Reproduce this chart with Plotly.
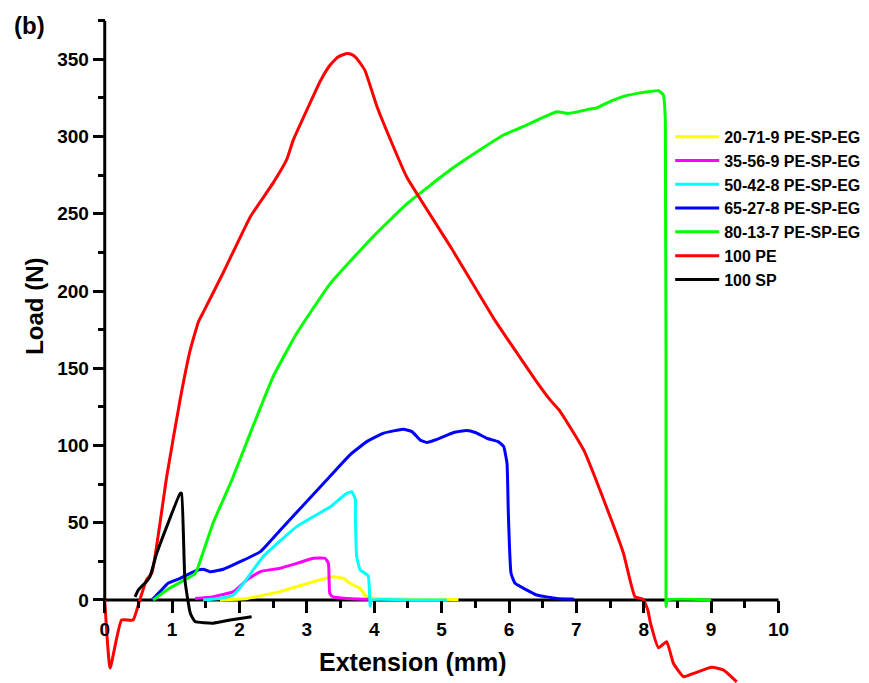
import plotly.graph_objects as go

# ---------------- data ----------------
names = ["20-71-9 PE-SP-EG", "35-56-9 PE-SP-EG", "50-42-8 PE-SP-EG",
         "65-27-8 PE-SP-EG", "80-13-7 PE-SP-EG", "100 PE", "100 SP"]
colors = ["#ffff00", "#ff00ff", "#00ffff", "#0000ff", "#00ff00", "#ff0000", "#000000"]

yellow_x = [1.71, 2.11, 2.60, 2.85, 3.10, 3.39, 3.54, 3.64, 3.74, 3.79, 3.86, 3.94, 4.09, 4.60, 5.25]
yellow_y = [0.0, 1.0, 5.4, 8.6, 11.9, 15.0, 14.0, 10.8, 8.6, 7.6, 3.2, 1.5, 1.0, 0.5, 0.3]

magenta_x = [1.34, 1.60, 1.91, 2.11, 2.31, 2.60, 2.85, 3.10, 3.27, 3.32, 3.34, 3.39, 3.59, 3.94]
magenta_y = [1.0, 2.0, 5.4, 13.0, 18.4, 20.5, 23.7, 27.0, 27.0, 23.7, 4.3, 2.0, 1.0, 0.5]

cyan_x = [1.46, 1.70, 1.91, 2.06, 2.35, 2.85, 3.35, 3.59, 3.67, 3.72, 3.72, 3.74, 3.79, 3.82, 3.91, 3.94, 3.96, 4.50, 5.08]
cyan_y = [0.0, 1.0, 3.2, 10.8, 28.0, 47.5, 60.4, 69.0, 70.0, 64.8, 56.0, 28.0, 19.4, 18.5, 15.5, -4.0, 0.0, 0.0, 0.0]

blue_x = [0.70, 0.82, 0.94, 1.12, 1.32, 1.46, 1.56, 1.76, 2.01, 2.31, 2.60, 3.30, 3.64, 3.89, 4.14,
          4.43, 4.56, 4.68, 4.78, 4.93, 5.18, 5.37, 5.50, 5.67, 5.84, 5.92, 5.97, 5.99, 6.03, 6.09,
          6.26, 6.41, 6.71, 6.96]
blue_y = [0.0, 5.4, 10.8, 14.0, 18.4, 19.9, 18.3, 19.9, 24.8, 31.3, 45.0, 78.0, 94.0, 102.5, 108.0,
          110.5, 109.0, 103.6, 102.0, 104.0, 108.4, 109.7, 108.4, 104.7, 102.5, 99.3, 88.5, 56.0, 17.3, 10.8,
          6.5, 3.2, 1.0, 0.6]

green_x = [0.72, 0.92, 1.34, 1.37, 1.61, 1.89, 2.16, 2.50, 2.85, 3.35, 4.00, 4.50, 5.13, 5.52, 5.92,
           6.27, 6.71, 6.88, 7.20, 7.30, 7.45, 7.70, 8.00, 8.22, 8.29, 8.32, 8.33, 8.33, 8.35, 9.00]
green_y = [0.0, 6.5, 17.0, 19.4, 50.0, 78.0, 108.0, 144.6, 172.7, 205.0, 236.0, 257.0, 278.5, 290.0, 301.0,
           307.6, 316.0, 315.0, 317.8, 318.5, 321.7, 326.0, 328.6, 329.7, 327.0, 311.0, 0.0, -4.3, 0.0, 0.0]

red_x = [0.00, 0.08, 0.25, 0.42, 0.52, 0.62, 0.70, 0.92, 1.12, 1.27, 1.39, 1.46, 1.76, 2.16, 2.50,
         2.70, 2.80, 3.05, 3.20, 3.34, 3.46, 3.59, 3.67, 3.74, 3.86, 4.04, 4.24, 4.48, 5.13, 5.77,
         6.39, 6.61, 6.76, 7.11, 7.50, 7.70, 7.87, 7.99, 8.06, 8.10, 8.22, 8.34, 8.44, 8.59, 8.74,
         9.01, 9.18, 9.38]
red_y = [0.0, -44.0, -13.0, -13.0, 0.0, 13.0, 17.5, 80.0, 130.0, 162.0, 180.0, 186.0, 212.0, 248.0, 270.0,
         285.0, 298.0, 322.0, 336.0, 346.0, 351.5, 353.8, 353.0, 350.5, 343.0, 319.5, 298.0, 274.0, 228.8, 182.5,
         142.5, 129.5, 122.0, 97.0, 54.0, 30.0, 2.0, 0.5, -6.5, -15.0, -31.0, -27.0, -41.0, -49.7, -47.5,
         -43.6, -45.3, -53.0]

black_x = [0.45, 0.50, 0.62, 0.67, 0.77, 0.92, 1.12, 1.14, 1.19, 1.27, 1.34, 1.61, 1.86, 2.01, 2.18]
black_y = [2.0, 6.5, 12.0, 15.0, 30.0, 47.5, 69.0, 69.0, 13.0, -8.6, -14.0, -15.0, -13.0, -12.0, -10.8]

series_x = [yellow_x, magenta_x, cyan_x, blue_x, green_x, red_x, black_x]
series_y = [yellow_y, magenta_y, cyan_y, blue_y, green_y, red_y, black_y]

x_major = list(range(0, 11))
x_minor = [0.5, 1.5, 2.5, 3.5, 4.5, 5.5, 6.5, 7.5, 8.5, 9.5]
y_major = [0, 50, 100, 150, 200, 250, 300, 350]
y_minor = [25, 75, 125, 175, 225, 275, 325, 375]

# ---------------- geometry ----------------
# The page body has an 8px default margin, so the figure is drawn 8px lower/right.
OFF = 8
W, H = 869 - OFF, 683 - OFF
x0px, xscale = 104.7 - OFF, 67.36     # px of x=0, px per mm
y0px, yscale = 600.0 - OFF, 1.544     # px of y=0, px per N
xr = [-0.1, 10.2]
yr = [-(H - y0px) / yscale, 380]

l = x0px + xr[0] * xscale
pw = (xr[1] - xr[0]) * xscale
r = W - l - pw
t = y0px - yr[1] * yscale
ph = H - t
b = 0

def px2paper(px, py):
    """reference-screenshot pixel -> paper coordinates"""
    return (px - OFF - l) / pw, (H - b - (py - OFF)) / ph

FONT = "Liberation Sans, Arial, sans-serif"

fig = go.Figure()
for nm, c, xs, ys in zip(names, colors, series_x, series_y):
    fig.add_trace(go.Scatter(x=xs, y=ys, mode="lines", name=nm,
                             line=dict(color=c, width=3, shape="spline", smoothing=0.4)))

# axis lines (only over the drawn span)
fig.add_shape(type="line", x0=0, x1=10, y0=0, y1=0, xref="x", yref="y",
              line=dict(color="black", width=3), layer="below")
fig.add_shape(type="line", x0=0, x1=0, y0=0, y1=375, xref="x", yref="y",
              line=dict(color="black", width=3), layer="below")

fig.update_layout(
    width=W, height=H,
    margin=dict(l=l, r=r, t=t, b=b, pad=0, autoexpand=False),
    paper_bgcolor="white", plot_bgcolor="white",
    showlegend=True,
    legend=dict(x=px2paper(670, 0)[0], y=px2paper(0, 120)[1], xanchor="left", yanchor="top",
                font=dict(family=FONT, size=16, color="black", weight="bold"),
                itemwidth=44, bgcolor="rgba(0,0,0,0)", tracegroupgap=0),
    xaxis=dict(range=xr, anchor="free", position=(0 - yr[0]) / (yr[1] - yr[0]),
               automargin=False,
               showgrid=False, zeroline=False, showline=False,
               tickmode="array", tickvals=x_major, ticktext=[str(v) for v in x_major],
               ticks="outside", ticklen=12, tickwidth=3, tickcolor="black",
               tickfont=dict(family=FONT, size=19, color="black", weight="bold"),
               minor=dict(tickmode="array", tickvals=x_minor, ticks="outside",
                          ticklen=7, tickwidth=3, tickcolor="black")),
    yaxis=dict(range=yr, anchor="free", position=(0 - xr[0]) / (xr[1] - xr[0]),
               automargin=False,
               showgrid=False, zeroline=False, showline=False,
               tickmode="array", tickvals=y_major, ticktext=[str(v) for v in y_major],
               ticks="outside", ticklen=12, tickwidth=3, tickcolor="black",
               tickfont=dict(family=FONT, size=19, color="black", weight="bold"),
               minor=dict(tickmode="array", tickvals=y_minor, ticks="outside",
                          ticklen=7, tickwidth=3, tickcolor="black")),
)

ax, ay = px2paper(413, 662)
fig.add_annotation(text="Extension (mm)", x=ax, y=ay, xref="paper", yref="paper",
                   showarrow=False, xanchor="center", yanchor="middle",
                   font=dict(family=FONT, size=25, color="black", weight="bold"))
ax, ay = px2paper(35, 307)
fig.add_annotation(text="Load (N)", x=ax, y=ay, xref="paper", yref="paper",
                   showarrow=False, xanchor="center", yanchor="middle", textangle=-90,
                   font=dict(family=FONT, size=24, color="black", weight="bold"))
ax, ay = px2paper(29, 26)
fig.add_annotation(text="(b)", x=ax, y=ay, xref="paper", yref="paper",
                   showarrow=False, xanchor="center", yanchor="middle",
                   font=dict(family=FONT, size=24, color="black", weight="bold"))

fig.write_html("out.html")
